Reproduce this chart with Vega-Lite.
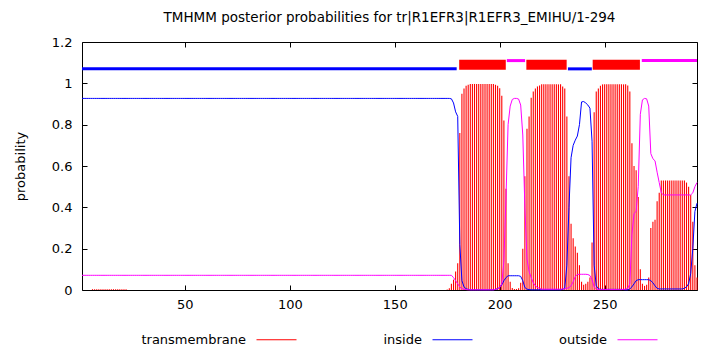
{
"$schema": "https://vega.github.io/schema/vega-lite/v6.json",
"width": 615, "height": 248,
"autosize": {"type": "none"},
"padding": {"left": 82, "top": 42, "right": 13, "bottom": 60},
"background": "white",
"title": {"text": "TMHMM posterior probabilities for tr|R1EFR3|R1EFR3_EMIHU/1-294", "font": "DejaVu Sans", "fontSize": 13.5, "fontWeight": "normal", "color": "black", "anchor": "middle", "offset": 12},
"config": {
 "view": {"stroke": "black", "strokeWidth": 1},
 "axis": {"domain": false, "grid": false, "tickColor": "black", "tickSize": -5, "labelColor": "black", "labelFont": "DejaVu Sans", "labelFontSize": 13, "titleFont": "DejaVu Sans", "titleFontSize": 13, "titleFontWeight": "normal", "titleColor": "black"}
},
"datasets": {
"pp": [
{"p":1,"tm":0,"inside":0.927,"outside":0.071},{"p":2,"tm":0,"inside":0.927,"outside":0.071},{"p":3,"tm":0,"inside":0.927,"outside":0.071},{"p":4,"tm":0,"inside":0.927,"outside":0.071},{"p":5,"tm":0,"inside":0.927,"outside":0.071},
{"p":6,"tm":0.004,"inside":0.927,"outside":0.071},{"p":7,"tm":0.004,"inside":0.927,"outside":0.071},{"p":8,"tm":0.004,"inside":0.927,"outside":0.071},{"p":9,"tm":0.004,"inside":0.927,"outside":0.071},{"p":10,"tm":0.004,"inside":0.927,"outside":0.071},
{"p":11,"tm":0.004,"inside":0.927,"outside":0.071},{"p":12,"tm":0.004,"inside":0.927,"outside":0.071},{"p":13,"tm":0.004,"inside":0.927,"outside":0.071},{"p":14,"tm":0.004,"inside":0.927,"outside":0.071},{"p":15,"tm":0.004,"inside":0.927,"outside":0.071},
{"p":16,"tm":0.004,"inside":0.927,"outside":0.071},{"p":17,"tm":0.004,"inside":0.927,"outside":0.071},{"p":18,"tm":0.004,"inside":0.927,"outside":0.071},{"p":19,"tm":0.004,"inside":0.927,"outside":0.071},{"p":20,"tm":0.004,"inside":0.927,"outside":0.071},
{"p":21,"tm":0.004,"inside":0.927,"outside":0.071},{"p":22,"tm":0.004,"inside":0.927,"outside":0.071},{"p":23,"tm":0,"inside":0.927,"outside":0.071},{"p":24,"tm":0,"inside":0.927,"outside":0.071},{"p":25,"tm":0,"inside":0.927,"outside":0.071},
{"p":26,"tm":0,"inside":0.927,"outside":0.071},{"p":27,"tm":0,"inside":0.927,"outside":0.071},{"p":28,"tm":0,"inside":0.927,"outside":0.071},{"p":29,"tm":0,"inside":0.927,"outside":0.071},{"p":30,"tm":0,"inside":0.927,"outside":0.071},
{"p":31,"tm":0,"inside":0.927,"outside":0.071},{"p":32,"tm":0,"inside":0.927,"outside":0.071},{"p":33,"tm":0,"inside":0.927,"outside":0.071},{"p":34,"tm":0,"inside":0.927,"outside":0.071},{"p":35,"tm":0,"inside":0.927,"outside":0.071},
{"p":36,"tm":0,"inside":0.927,"outside":0.071},{"p":37,"tm":0,"inside":0.927,"outside":0.071},{"p":38,"tm":0,"inside":0.927,"outside":0.071},{"p":39,"tm":0,"inside":0.927,"outside":0.071},{"p":40,"tm":0,"inside":0.927,"outside":0.071},
{"p":41,"tm":0,"inside":0.927,"outside":0.071},{"p":42,"tm":0,"inside":0.927,"outside":0.071},{"p":43,"tm":0,"inside":0.927,"outside":0.071},{"p":44,"tm":0,"inside":0.927,"outside":0.071},{"p":45,"tm":0,"inside":0.927,"outside":0.071},
{"p":46,"tm":0,"inside":0.927,"outside":0.071},{"p":47,"tm":0,"inside":0.927,"outside":0.071},{"p":48,"tm":0,"inside":0.927,"outside":0.071},{"p":49,"tm":0,"inside":0.927,"outside":0.071},{"p":50,"tm":0,"inside":0.927,"outside":0.071},
{"p":51,"tm":0,"inside":0.927,"outside":0.071},{"p":52,"tm":0,"inside":0.927,"outside":0.071},{"p":53,"tm":0,"inside":0.927,"outside":0.071},{"p":54,"tm":0,"inside":0.927,"outside":0.071},{"p":55,"tm":0,"inside":0.927,"outside":0.071},
{"p":56,"tm":0,"inside":0.927,"outside":0.071},{"p":57,"tm":0,"inside":0.927,"outside":0.071},{"p":58,"tm":0,"inside":0.927,"outside":0.071},{"p":59,"tm":0,"inside":0.927,"outside":0.071},{"p":60,"tm":0,"inside":0.927,"outside":0.071},
{"p":61,"tm":0,"inside":0.927,"outside":0.071},{"p":62,"tm":0,"inside":0.927,"outside":0.071},{"p":63,"tm":0,"inside":0.927,"outside":0.071},{"p":64,"tm":0,"inside":0.927,"outside":0.071},{"p":65,"tm":0,"inside":0.927,"outside":0.071},
{"p":66,"tm":0,"inside":0.927,"outside":0.071},{"p":67,"tm":0,"inside":0.927,"outside":0.071},{"p":68,"tm":0,"inside":0.927,"outside":0.071},{"p":69,"tm":0,"inside":0.927,"outside":0.071},{"p":70,"tm":0,"inside":0.927,"outside":0.071},
{"p":71,"tm":0,"inside":0.927,"outside":0.071},{"p":72,"tm":0,"inside":0.927,"outside":0.071},{"p":73,"tm":0,"inside":0.927,"outside":0.071},{"p":74,"tm":0,"inside":0.927,"outside":0.071},{"p":75,"tm":0,"inside":0.927,"outside":0.071},
{"p":76,"tm":0,"inside":0.927,"outside":0.071},{"p":77,"tm":0,"inside":0.927,"outside":0.071},{"p":78,"tm":0,"inside":0.927,"outside":0.071},{"p":79,"tm":0,"inside":0.927,"outside":0.071},{"p":80,"tm":0,"inside":0.927,"outside":0.071},
{"p":81,"tm":0,"inside":0.927,"outside":0.071},{"p":82,"tm":0,"inside":0.927,"outside":0.071},{"p":83,"tm":0,"inside":0.927,"outside":0.071},{"p":84,"tm":0,"inside":0.927,"outside":0.071},{"p":85,"tm":0,"inside":0.927,"outside":0.071},
{"p":86,"tm":0,"inside":0.927,"outside":0.071},{"p":87,"tm":0,"inside":0.927,"outside":0.071},{"p":88,"tm":0,"inside":0.927,"outside":0.071},{"p":89,"tm":0,"inside":0.927,"outside":0.071},{"p":90,"tm":0,"inside":0.927,"outside":0.071},
{"p":91,"tm":0,"inside":0.927,"outside":0.071},{"p":92,"tm":0,"inside":0.927,"outside":0.071},{"p":93,"tm":0,"inside":0.927,"outside":0.071},{"p":94,"tm":0,"inside":0.927,"outside":0.071},{"p":95,"tm":0,"inside":0.927,"outside":0.071},
{"p":96,"tm":0,"inside":0.927,"outside":0.071},{"p":97,"tm":0,"inside":0.927,"outside":0.071},{"p":98,"tm":0,"inside":0.927,"outside":0.071},{"p":99,"tm":0,"inside":0.927,"outside":0.071},{"p":100,"tm":0,"inside":0.927,"outside":0.071},
{"p":101,"tm":0,"inside":0.927,"outside":0.071},{"p":102,"tm":0,"inside":0.927,"outside":0.071},{"p":103,"tm":0,"inside":0.927,"outside":0.071},{"p":104,"tm":0,"inside":0.927,"outside":0.071},{"p":105,"tm":0,"inside":0.927,"outside":0.071},
{"p":106,"tm":0,"inside":0.927,"outside":0.071},{"p":107,"tm":0,"inside":0.927,"outside":0.071},{"p":108,"tm":0,"inside":0.927,"outside":0.071},{"p":109,"tm":0,"inside":0.927,"outside":0.071},{"p":110,"tm":0,"inside":0.927,"outside":0.071},
{"p":111,"tm":0,"inside":0.927,"outside":0.071},{"p":112,"tm":0,"inside":0.927,"outside":0.071},{"p":113,"tm":0,"inside":0.927,"outside":0.071},{"p":114,"tm":0,"inside":0.927,"outside":0.071},{"p":115,"tm":0,"inside":0.927,"outside":0.071},
{"p":116,"tm":0,"inside":0.927,"outside":0.071},{"p":117,"tm":0,"inside":0.927,"outside":0.071},{"p":118,"tm":0,"inside":0.927,"outside":0.071},{"p":119,"tm":0,"inside":0.927,"outside":0.071},{"p":120,"tm":0,"inside":0.927,"outside":0.071},
{"p":121,"tm":0,"inside":0.927,"outside":0.071},{"p":122,"tm":0,"inside":0.927,"outside":0.071},{"p":123,"tm":0,"inside":0.927,"outside":0.071},{"p":124,"tm":0,"inside":0.927,"outside":0.071},{"p":125,"tm":0,"inside":0.927,"outside":0.071},
{"p":126,"tm":0,"inside":0.927,"outside":0.071},{"p":127,"tm":0,"inside":0.927,"outside":0.071},{"p":128,"tm":0,"inside":0.927,"outside":0.071},{"p":129,"tm":0,"inside":0.927,"outside":0.071},{"p":130,"tm":0,"inside":0.927,"outside":0.071},
{"p":131,"tm":0,"inside":0.927,"outside":0.071},{"p":132,"tm":0,"inside":0.927,"outside":0.071},{"p":133,"tm":0,"inside":0.927,"outside":0.071},{"p":134,"tm":0,"inside":0.927,"outside":0.071},{"p":135,"tm":0,"inside":0.927,"outside":0.071},
{"p":136,"tm":0,"inside":0.927,"outside":0.071},{"p":137,"tm":0,"inside":0.927,"outside":0.071},{"p":138,"tm":0,"inside":0.927,"outside":0.071},{"p":139,"tm":0,"inside":0.927,"outside":0.071},{"p":140,"tm":0,"inside":0.927,"outside":0.071},
{"p":141,"tm":0,"inside":0.927,"outside":0.071},{"p":142,"tm":0,"inside":0.927,"outside":0.071},{"p":143,"tm":0,"inside":0.927,"outside":0.071},{"p":144,"tm":0,"inside":0.927,"outside":0.071},{"p":145,"tm":0,"inside":0.927,"outside":0.071},
{"p":146,"tm":0,"inside":0.927,"outside":0.071},{"p":147,"tm":0,"inside":0.927,"outside":0.071},{"p":148,"tm":0,"inside":0.927,"outside":0.071},{"p":149,"tm":0,"inside":0.927,"outside":0.071},{"p":150,"tm":0,"inside":0.927,"outside":0.071},
{"p":151,"tm":0,"inside":0.927,"outside":0.071},{"p":152,"tm":0,"inside":0.927,"outside":0.071},{"p":153,"tm":0,"inside":0.927,"outside":0.071},{"p":154,"tm":0,"inside":0.927,"outside":0.071},{"p":155,"tm":0,"inside":0.927,"outside":0.071},
{"p":156,"tm":0,"inside":0.927,"outside":0.071},{"p":157,"tm":0,"inside":0.927,"outside":0.071},{"p":158,"tm":0,"inside":0.927,"outside":0.071},{"p":159,"tm":0,"inside":0.927,"outside":0.071},{"p":160,"tm":0,"inside":0.927,"outside":0.071},
{"p":161,"tm":0,"inside":0.927,"outside":0.071},{"p":162,"tm":0,"inside":0.927,"outside":0.071},{"p":163,"tm":0,"inside":0.927,"outside":0.071},{"p":164,"tm":0,"inside":0.927,"outside":0.071},{"p":165,"tm":0,"inside":0.927,"outside":0.071},
{"p":166,"tm":0,"inside":0.927,"outside":0.071},{"p":167,"tm":0,"inside":0.927,"outside":0.071},{"p":168,"tm":0,"inside":0.927,"outside":0.071},{"p":169,"tm":0,"inside":0.927,"outside":0.071},{"p":170,"tm":0,"inside":0.927,"outside":0.071},
{"p":171,"tm":0,"inside":0.927,"outside":0.071},{"p":172,"tm":0,"inside":0.927,"outside":0.071},{"p":173,"tm":0,"inside":0.927,"outside":0.071},{"p":174,"tm":0,"inside":0.927,"outside":0.071},{"p":175,"tm":0.002,"inside":0.927,"outside":0.071},
{"p":176,"tm":0.008,"inside":0.927,"outside":0.071},{"p":177,"tm":0.03,"inside":0.925,"outside":0.071},{"p":178,"tm":0.05,"inside":0.905,"outside":0.06},{"p":179,"tm":0.09,"inside":0.862,"outside":0.045},{"p":180,"tm":0.13,"inside":0.84,"outside":0.03},
{"p":181,"tm":0.76,"inside":0.22,"outside":0.015},{"p":182,"tm":0.95,"inside":0.045,"outside":0.006},{"p":183,"tm":0.975,"inside":0.015,"outside":0.003},{"p":184,"tm":0.988,"inside":0.006,"outside":0.002},{"p":185,"tm":0.993,"inside":0.003,"outside":0.001},
{"p":186,"tm":0.997,"inside":0.001,"outside":0.001},{"p":187,"tm":0.997,"inside":0.001,"outside":0.001},{"p":188,"tm":0.997,"inside":0.001,"outside":0.001},{"p":189,"tm":0.997,"inside":0.001,"outside":0.001},{"p":190,"tm":0.997,"inside":0.001,"outside":0.001},
{"p":191,"tm":0.997,"inside":0.001,"outside":0.001},{"p":192,"tm":0.997,"inside":0.001,"outside":0.001},{"p":193,"tm":0.997,"inside":0.001,"outside":0.001},{"p":194,"tm":0.997,"inside":0.001,"outside":0.001},{"p":195,"tm":0.997,"inside":0.001,"outside":0.001},
{"p":196,"tm":0.997,"inside":0.001,"outside":0.001},{"p":197,"tm":0.997,"inside":0.001,"outside":0.001},{"p":198,"tm":0.993,"inside":0.003,"outside":0.003},{"p":199,"tm":0.988,"inside":0.006,"outside":0.006},{"p":200,"tm":0.976,"inside":0.012,"outside":0.012},
{"p":201,"tm":0.94,"inside":0.025,"outside":0.03},{"p":202,"tm":0.82,"inside":0.045,"outside":0.14},{"p":203,"tm":0.49,"inside":0.06,"outside":0.45},{"p":204,"tm":0.13,"inside":0.069,"outside":0.8},{"p":205,"tm":0.04,"inside":0.069,"outside":0.89},
{"p":206,"tm":0.01,"inside":0.069,"outside":0.922},{"p":207,"tm":0.005,"inside":0.069,"outside":0.927},{"p":208,"tm":0.005,"inside":0.069,"outside":0.927},{"p":209,"tm":0.008,"inside":0.069,"outside":0.924},{"p":210,"tm":0.035,"inside":0.066,"outside":0.895},
{"p":211,"tm":0.2,"inside":0.045,"outside":0.75},{"p":212,"tm":0.55,"inside":0.012,"outside":0.4},{"p":213,"tm":0.78,"inside":0.004,"outside":0.15},{"p":214,"tm":0.84,"inside":0.002,"outside":0.09},{"p":215,"tm":0.93,"inside":0.001,"outside":0.06},
{"p":216,"tm":0.96,"inside":0.001,"outside":0.035},{"p":217,"tm":0.975,"inside":0.001,"outside":0.02},{"p":218,"tm":0.985,"inside":0.001,"outside":0.012},{"p":219,"tm":0.99,"inside":0.001,"outside":0.008},{"p":220,"tm":0.995,"inside":0.001,"outside":0.004},
{"p":221,"tm":0.995,"inside":0.001,"outside":0.004},{"p":222,"tm":0.995,"inside":0.001,"outside":0.004},{"p":223,"tm":0.995,"inside":0.001,"outside":0.004},{"p":224,"tm":0.995,"inside":0.001,"outside":0.004},{"p":225,"tm":0.995,"inside":0.001,"outside":0.004},
{"p":226,"tm":0.995,"inside":0.001,"outside":0.004},{"p":227,"tm":0.995,"inside":0.001,"outside":0.004},{"p":228,"tm":0.995,"inside":0.001,"outside":0.004},{"p":229,"tm":0.995,"inside":0.001,"outside":0.004},{"p":230,"tm":0.985,"inside":0.003,"outside":0.005},
{"p":231,"tm":0.975,"inside":0.008,"outside":0.006},{"p":232,"tm":0.84,"inside":0.12,"outside":0.008},{"p":233,"tm":0.55,"inside":0.4,"outside":0.012},{"p":234,"tm":0.32,"inside":0.64,"outside":0.02},{"p":235,"tm":0.25,"inside":0.7,"outside":0.04},
{"p":236,"tm":0.21,"inside":0.725,"outside":0.065},{"p":237,"tm":0.18,"inside":0.745,"outside":0.075},{"p":238,"tm":0.12,"inside":0.8,"outside":0.076},{"p":239,"tm":0.04,"inside":0.91,"outside":0.076},{"p":240,"tm":0.025,"inside":0.912,"outside":0.076},
{"p":241,"tm":0.03,"inside":0.905,"outside":0.076},{"p":242,"tm":0.04,"inside":0.895,"outside":0.075},{"p":243,"tm":0.06,"inside":0.88,"outside":0.07},{"p":244,"tm":0.23,"inside":0.72,"outside":0.05},{"p":245,"tm":0.86,"inside":0.12,"outside":0.015},
{"p":246,"tm":0.96,"inside":0.02,"outside":0.005},{"p":247,"tm":0.975,"inside":0.006,"outside":0.002},{"p":248,"tm":0.988,"inside":0.003,"outside":0.002},{"p":249,"tm":0.995,"inside":0.003,"outside":0.002},{"p":250,"tm":0.995,"inside":0.003,"outside":0.002},
{"p":251,"tm":0.995,"inside":0.003,"outside":0.002},{"p":252,"tm":0.995,"inside":0.003,"outside":0.002},{"p":253,"tm":0.995,"inside":0.003,"outside":0.002},{"p":254,"tm":0.995,"inside":0.003,"outside":0.002},{"p":255,"tm":0.995,"inside":0.003,"outside":0.002},
{"p":256,"tm":0.995,"inside":0.003,"outside":0.002},{"p":257,"tm":0.995,"inside":0.003,"outside":0.002},{"p":258,"tm":0.995,"inside":0.003,"outside":0.002},{"p":259,"tm":0.995,"inside":0.002,"outside":0.003},{"p":260,"tm":0.995,"inside":0.001,"outside":0.004},
{"p":261,"tm":0.99,"inside":0.001,"outside":0.008},{"p":262,"tm":0.96,"inside":0.005,"outside":0.03},{"p":263,"tm":0.71,"inside":0.015,"outside":0.27},{"p":264,"tm":0.6,"inside":0.03,"outside":0.37},{"p":265,"tm":0.58,"inside":0.045,"outside":0.38},
{"p":266,"tm":0.45,"inside":0.05,"outside":0.5},{"p":267,"tm":0.1,"inside":0.05,"outside":0.85},{"p":268,"tm":0.03,"inside":0.05,"outside":0.92},{"p":269,"tm":0.02,"inside":0.05,"outside":0.927},{"p":270,"tm":0.025,"inside":0.05,"outside":0.925},
{"p":271,"tm":0.06,"inside":0.05,"outside":0.89},{"p":272,"tm":0.3,"inside":0.045,"outside":0.66},{"p":273,"tm":0.33,"inside":0.035,"outside":0.635},{"p":274,"tm":0.34,"inside":0.02,"outside":0.625},{"p":275,"tm":0.43,"inside":0.008,"outside":0.57},
{"p":276,"tm":0.47,"inside":0.005,"outside":0.52},{"p":277,"tm":0.53,"inside":0.005,"outside":0.47},{"p":278,"tm":0.53,"inside":0.005,"outside":0.46},{"p":279,"tm":0.53,"inside":0.005,"outside":0.46},{"p":280,"tm":0.53,"inside":0.005,"outside":0.46},
{"p":281,"tm":0.53,"inside":0.005,"outside":0.46},{"p":282,"tm":0.53,"inside":0.005,"outside":0.46},{"p":283,"tm":0.53,"inside":0.005,"outside":0.46},{"p":284,"tm":0.53,"inside":0.005,"outside":0.46},{"p":285,"tm":0.53,"inside":0.005,"outside":0.46},
{"p":286,"tm":0.53,"inside":0.005,"outside":0.46},{"p":287,"tm":0.53,"inside":0.005,"outside":0.46},{"p":288,"tm":0.53,"inside":0.008,"outside":0.46},{"p":289,"tm":0.52,"inside":0.015,"outside":0.46},{"p":290,"tm":0.5,"inside":0.03,"outside":0.46},
{"p":291,"tm":0.46,"inside":0.08,"outside":0.46},{"p":292,"tm":0.33,"inside":0.2,"outside":0.47},{"p":293,"tm":0.12,"inside":0.38,"outside":0.5},{"p":294,"tm":0.06,"inside":0.42,"outside":0.52}
],
"seg": [
{"type":"inside","s":1,"e":179.5},{"type":"transmembrane","s":180.7,"e":202.9},{"type":"outside","s":203.4,"e":212.1},{"type":"transmembrane","s":212.7,"e":231.9},{"type":"inside","s":232.5,"e":243.9},{"type":"transmembrane","s":244.3,"e":266.8},{"type":"outside","s":267.7,"e":294}
]
},
"layer": [
{
 "data": {"name": "pp"},
 "mark": {"type": "rule", "strokeWidth": 1.1},
 "encoding": {
  "x": {"field": "p", "type": "quantitative", "scale": {"domain": [1, 294], "nice": false, "zero": false}, "axis": {"orient": "bottom", "values": [50, 100, 150, 200, 250], "format": "d", "title": null, "labelPadding": 13}},
  "y": {"field": "tm", "type": "quantitative", "scale": {"domain": [0, 1.2], "nice": false, "zero": true}, "axis": {"orient": "left", "values": [0, 0.2, 0.4, 0.6, 0.8, 1, 1.2], "format": "~g", "title": "probability", "labelPadding": 15, "titlePadding": 24}},
  "y2": {"datum": 0},
  "color": {"datum": "transmembrane", "type": "nominal", "title": null, "scale": {"domain": ["transmembrane", "inside", "outside"], "range": ["#ff0000", "#0000ff", "#ff00ff"]},
   "legend": {"orient": "none", "legendX": 174, "legendY": 277, "direction": "horizontal", "title": null, "symbolType": "stroke", "symbolSize": 1600, "symbolStrokeWidth": 1, "labelAlign": "right", "labelOffset": -51, "labelFont": "DejaVu Sans", "labelFontSize": 13, "labelColor": "black", "columnPadding": 84, "padding": 0}}
 }
},
{
 "data": {"name": "pp"},
 "transform": [{"fold": ["inside", "outside"], "as": ["key", "value"]}],
 "mark": {"type": "line", "strokeWidth": 1},
 "encoding": {
  "x": {"field": "p", "type": "quantitative", "axis": {"orient": "top", "values": [50, 100, 150, 200, 250], "labels": false, "title": null}},
  "y": {"field": "value", "type": "quantitative", "axis": {"orient": "right", "values": [0, 0.2, 0.4, 0.6, 0.8, 1, 1.2], "labels": false, "title": null}},
  "color": {"field": "key", "type": "nominal", "title": null},
  "detail": {"field": "key"}
 }
},
{
 "data": {"name": "seg"},
 "transform": [{"filter": "datum.type === 'inside'"}],
 "mark": {"type": "rule", "strokeWidth": 3},
 "encoding": {
  "x": {"field": "s", "type": "quantitative", "axis": null},
  "x2": {"field": "e"},
  "y": {"datum": 1.07, "axis": null},
  "color": {"field": "type", "type": "nominal", "title": null}
 }
},
{
 "data": {"name": "seg"},
 "transform": [{"filter": "datum.type === 'outside'"}],
 "mark": {"type": "rule", "strokeWidth": 3},
 "encoding": {
  "x": {"field": "s", "type": "quantitative", "axis": null},
  "x2": {"field": "e"},
  "y": {"datum": 1.11, "axis": null},
  "color": {"field": "type", "type": "nominal", "title": null}
 }
},
{
 "data": {"name": "seg"},
 "transform": [{"filter": "datum.type === 'transmembrane'"}],
 "mark": {"type": "rule", "strokeWidth": 10},
 "encoding": {
  "x": {"field": "s", "type": "quantitative", "axis": null},
  "x2": {"field": "e"},
  "y": {"datum": 1.09, "axis": null},
  "color": {"field": "type", "type": "nominal", "title": null}
 }
}
],
"resolve": {"axis": {"x": "independent", "y": "independent"}}
}
